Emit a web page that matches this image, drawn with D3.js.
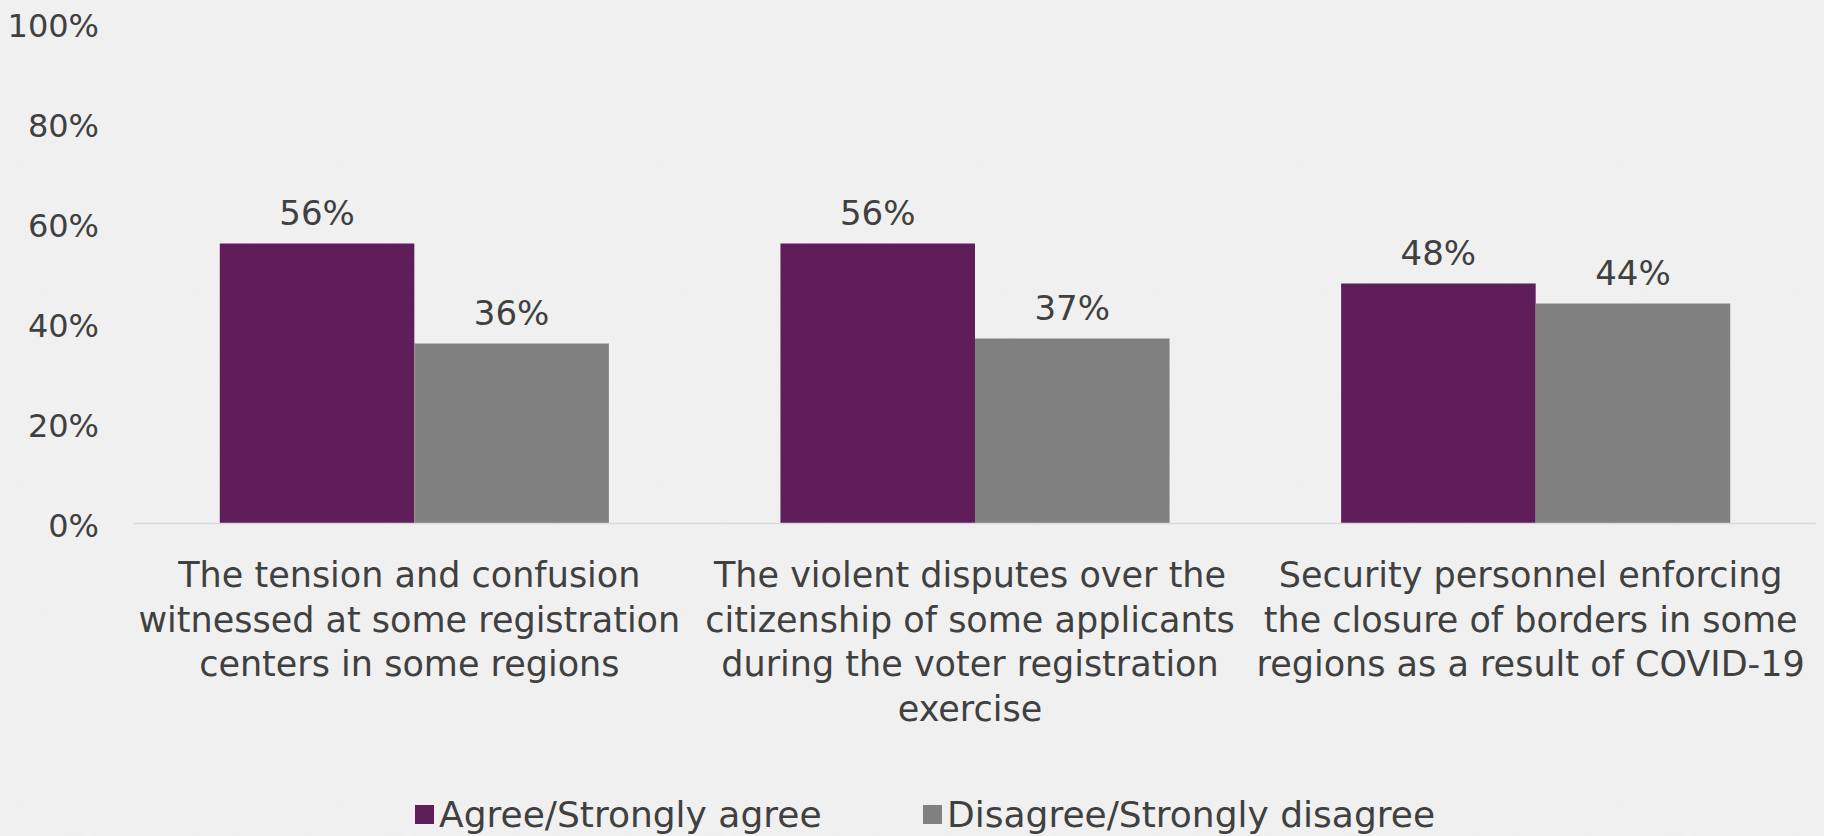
<!DOCTYPE html>
<html>
<head>
<meta charset="utf-8">
<script src="https://cdn.jsdelivr.net/npm/d3@7"></script>
<style>
  html, body { margin: 0; padding: 0; background: #f1f1f1; }
  svg { display: block; }
  text { font-family: "DejaVu Sans", sans-serif; fill: #404040; }
</style>
</head>
<body>
<svg id="chart" width="1824" height="836"></svg>
<script>
// Survey statements (x-axis categories, one line per entry)
const categories = [
  ["The tension and confusion", "witnessed at some registration", "centers in some regions"],
  ["The violent disputes over the", "citizenship of some applicants", "during the voter registration", "exercise"],
  ["Security personnel enforcing", "the closure of borders in some", "regions as a result of COVID-19"]
];
const seriesNames = ["Agree/Strongly agree", "Disagree/Strongly disagree"];
const agree = [0.56, 0.56, 0.48];
const disagree = [0.36, 0.37, 0.44];
const yTicks = [0, 0.2, 0.4, 0.6, 0.8, 1.0];
const colors = ["#5f1d5a", "#808080"];

const svg = d3.select("#chart");
const W = 1824, H = 836;

// paper-like background with faint grain
const defs = svg.append("defs");
const grain = defs.append("filter").attr("id", "grain")
  .attr("x", 0).attr("y", 0).attr("width", "100%").attr("height", "100%");
grain.append("feTurbulence").attr("type", "fractalNoise")
  .attr("baseFrequency", 0.8).attr("numOctaves", 2).attr("seed", 3).attr("result", "noise");
grain.append("feColorMatrix").attr("in", "noise").attr("type", "matrix")
  .attr("values", "0 0 0 0 0.45  0 0 0 0 0.45  0 0 0 0 0.45  0 0 0 0.09 0");
svg.append("rect").attr("width", W).attr("height", H).attr("fill", "#f3f3f3");
svg.append("rect").attr("width", W).attr("height", H).attr("filter", "url(#grain)");

const x0 = d3.scaleBand().domain(d3.range(categories.length))
  .range([134, 1816]).paddingInner(0.306).paddingOuter(0.153);
const x1 = d3.scaleBand().domain(d3.range(seriesNames.length))
  .range([0, x0.bandwidth()]);
const y = d3.scaleLinear().domain([0, 1]).range([523.5, 23.5]);

const rows = categories.map((c, i) => [agree[i], disagree[i]]);

// y-axis labels
const yAxis = d3.axisLeft(y).tickValues(yTicks).tickFormat(d3.format(".0%")).tickSize(0).tickPadding(0);
const gy = svg.append("g").attr("transform", "translate(99,0)").call(yAxis);
gy.select(".domain").remove();
gy.selectAll("text").attr("font-size", 32).attr("fill", "#404040")
  .attr("font-family", "DejaVu Sans").attr("dy", "0.42em");

// bars
const groups = svg.append("g").selectAll("g").data(rows).join("g")
  .attr("transform", (d, i) => `translate(${x0(i)},0)`);
groups.selectAll("rect").data(d => d).join("rect")
  .attr("x", (d, j) => x1(j)).attr("width", x1.bandwidth())
  .attr("y", d => y(d)).attr("height", d => y(0) - y(d))
  .attr("fill", (d, j) => colors[j]);

// value labels
groups.selectAll("text").data(d => d).join("text")
  .attr("x", (d, j) => x1(j) + x1.bandwidth() / 2)
  .attr("y", d => y(d) - 19)
  .attr("text-anchor", "middle").attr("font-size", 34)
  .text(d3.format(".0%"));

// baseline
svg.append("line").attr("x1", 134).attr("x2", 1816)
  .attr("y1", y(0)).attr("y2", y(0))
  .attr("stroke", "#d9d9d9").attr("stroke-width", 1.5);

// category labels
const xl = svg.append("g").selectAll("text").data(categories).join("text")
  .attr("x", (d, i) => x0(i) + x0.bandwidth() / 2 - 5)
  .attr("y", 587)
  .attr("text-anchor", "middle").attr("font-size", 35);
xl.selectAll("tspan").data(d => d).join("tspan")
  .attr("x", function () { return d3.select(this.parentNode).attr("x"); })
  .attr("dy", (d, k) => k === 0 ? 0 : 44.5)
  .text(d => d);

// legend
const legendX = [415, 923];
const lg = svg.append("g").selectAll("g").data(seriesNames).join("g")
  .attr("transform", (d, i) => `translate(${legendX[i]},0)`);
lg.append("rect").attr("x", 0).attr("y", 805).attr("width", 19).attr("height", 19)
  .attr("fill", (d, i) => colors[i]);
lg.append("text").attr("x", 24).attr("y", 827).attr("font-size", 36).text(d => d);
</script>
</body>
</html>
